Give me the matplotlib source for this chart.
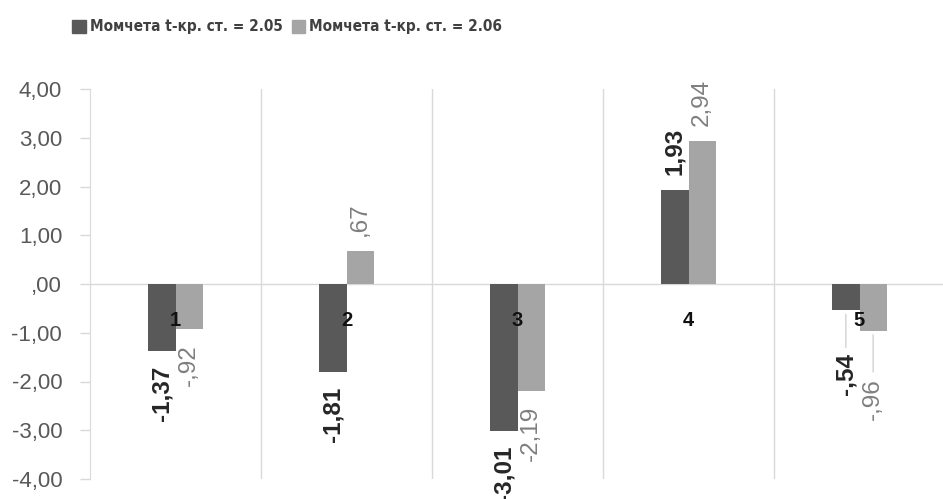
import matplotlib
matplotlib.use("Agg")
import matplotlib.pyplot as plt
from matplotlib import font_manager
from matplotlib.patches import Patch

# data
categories = ["1", "2", "3", "4", "5"]
boys = [-1.37, -1.81, -3.01, 1.93, -0.54]
girls = [-0.92, 0.67, -2.19, 2.94, -0.96]
series_names = ["Момчета t-кр. ст. = 2.05", "Момчета t-кр. ст. = 2.06"]
y_ticks = [4, 3, 2, 1, 0, -1, -2, -3, -4]
y_tick_labels = ["4,00", "3,00", "2,00", "1,00", ",00", "-1,00", "-2,00", "-3,00", "-4,00"]

DARK = "#595959"
LIGHT = "#A5A5A5"
GRID = "#D9D9D9"

plt.rcParams["font.family"] = ["Liberation Sans", "DejaVu Sans"]

# pick a condensed face for the legend if one is installed
fonts = font_manager.fontManager.ttflist
names = {f.name for f in fonts}
if "Liberation Sans Narrow" in names:
    legend_prop = dict(family=["Liberation Sans Narrow", "DejaVu Sans"], weight="bold", size=12)
elif any(f.name == "DejaVu Sans" and f.stretch == "condensed" for f in fonts):
    legend_prop = dict(family=["DejaVu Sans"], stretch="condensed", weight="bold", size=11)
else:
    legend_prop = dict(family=["Liberation Sans", "DejaVu Sans"], weight="bold", size=11)


def fmt(v):
    s = f"{v:.2f}".replace(".", ",")
    return s.replace("0,", ",", 1) if s.lstrip("-").startswith("0,") else s


fig = plt.figure(figsize=(9.43, 4.99), dpi=100, facecolor="white")
ax = fig.add_axes([90 / 943, 20 / 499, 855 / 943, 390 / 499])

x = list(range(len(categories)))
w = 0.16
ax.bar([i - w / 2 for i in x], boys, width=w, color=DARK, zorder=3)
ax.bar([i + w / 2 for i in x], girls, width=w, color=LIGHT, zorder=3)

ax.set_xlim(-0.5, len(categories) - 0.5)
ax.set_ylim(-4, 4)
ax.set_yticks(y_ticks)
ax.set_yticklabels(y_tick_labels, fontsize=16, color="#595959")
ax.tick_params(axis="y", length=7, width=1, color=GRID, pad=13)
ax.set_xticks([])

for s in ["top", "right", "bottom"]:
    ax.spines[s].set_visible(False)
ax.spines["left"].set_color(GRID)

# gridlines between categories and the zero line
for b in range(1, len(categories)):
    ax.axvline(b - 0.5, color=GRID, lw=1, zorder=1)
ax.axhline(0, color=GRID, lw=1, zorder=2)

# category labels next to the zero line
for i, c in enumerate(categories):
    ax.annotate(c, (i, 0), xytext=(0, -36), textcoords="offset pixels",
                ha="center", va="center", fontsize=14.5, fontweight="bold",
                color="#111111", zorder=5)

# last category: labels pushed down with leader lines
shifted = {4: (43, 47)}

for j, (vals, col, weight) in enumerate([(boys, "#262626", "bold"), (girls, "#7F7F7F", "normal")]):
    for i, v in enumerate(vals):
        xc = i - w / 2 if j == 0 else i + w / 2
        gap = shifted[i][j] if i in shifted else 15
        sign = 1 if v >= 0 else -1
        ax.annotate(fmt(v), (xc, v), xytext=(0, sign * gap), textcoords="offset pixels",
                    ha="center", va="bottom" if v >= 0 else "top", rotation=90,
                    fontsize=17.5, fontweight=weight, color=col, zorder=5)
        if i in shifted:
            ax.annotate("", (xc, v), xytext=(0, -gap + 6), textcoords="offset pixels",
                        arrowprops=dict(arrowstyle="-", color=GRID, lw=1.2,
                                        shrinkA=0, shrinkB=3))

handles = [Patch(color=DARK), Patch(color=LIGHT)]
fig.legend(handles, series_names, loc="center left", bbox_to_anchor=(72 / 943, 1 - 27 / 499),
           ncol=2, frameon=False, handlelength=0.9, handleheight=0.9, handletextpad=0.25,
           columnspacing=0.6, borderpad=0, borderaxespad=0,
           prop=legend_prop, labelcolor="#404040")

fig.savefig("out.png", dpi=100, facecolor="white")
